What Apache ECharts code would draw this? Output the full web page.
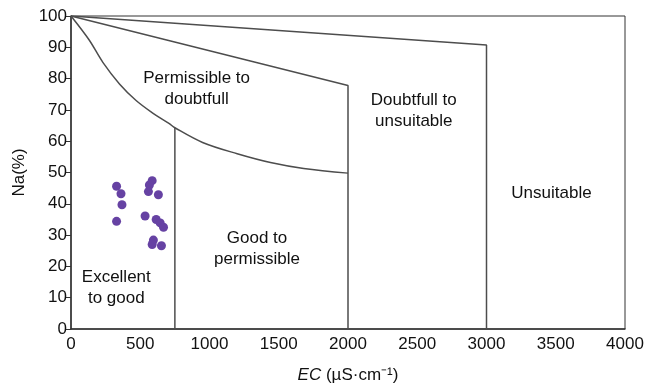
<!DOCTYPE html>
<html>
<head>
<meta charset="utf-8">
<script src="https://cdn.jsdelivr.net/npm/echarts@6/dist/echarts.min.js"></script>
<style>
  html, body { margin: 0; padding: 0; background: #fff; }
  #chart { width: 650px; height: 389px; }
</style>
</head>
<body>
<div id="chart"></div>
<script>
// samples (EC, Na%)
var ecValues = [329, 361, 368, 329, 586, 566, 559, 631, 535, 615, 644, 668, 595, 586, 653];
var naValues = [45.6, 43.2, 39.7, 34.4, 47.4, 46.0, 43.9, 42.9, 36.1, 35.0, 33.9, 32.5, 28.4, 27.0, 26.6];

// Wilcox class boundaries
var lineUnsuitable = [[0, 100], [3000, 90.7], [3000, 0]];
var lineDoubtfull = [[0, 100], [2000, 77.8], [2000, 0]];
var curvePermissible = [[0, 100], [130, 92.4], [230, 85.2], [350, 78.3], [470, 73], [590, 69], [710, 65.6], [750, 64.3],
  [950, 59.6], [1200, 56], [1440, 53.2], [1680, 51.3], [2000, 49.8]];
var lineExcellent = [[750, 64.3], [750, 0]];

// class labels
var classNames = ["Permissible to\ndoubtfull", "Doubtfull to\nunsuitable", "Unsuitable", "Good to\npermissible", "Excellent\nto good"];
var classPos = [[907, 76.8], [2475, 69.8], [3469, 43.2], [1343, 25.7], [327, 13]];

var xTicks = [0, 500, 1000, 1500, 2000, 2500, 3000, 3500, 4000];

var myChart = echarts.init(document.getElementById("chart"));

var boundaryStyle = { color: "#4d4d4d", width: 1.5 };
function boundary(data, smooth) {
  return {
    type: "line",
    data: data,
    smooth: smooth || false,
    showSymbol: false,
    symbol: "none",
    lineStyle: boundaryStyle,
    silent: true,
    z: 2
  };
}

var option = {
  animation: false,
  textStyle: { fontFamily: "Liberation Sans, Arial, sans-serif" },
  grid: {
    left: 71,
    right: 25,
    top: 16,
    bottom: 58,
    show: true,
    borderColor: "#333",
    borderWidth: 1
  },
  xAxis: {
    type: "value",
    min: xTicks[0],
    max: xTicks[xTicks.length - 1],
    interval: 500,
    name: "{i|EC} (µS·cm⁻¹)",
    nameLocation: "middle",
    nameGap: 38,
    nameTextStyle: {
      fontSize: 17,
      color: "#111",
      rich: {
        i: { fontStyle: "italic", fontSize: 17, color: "#111" }
      }
    },
    axisLine: { show: true, lineStyle: { color: "#333", width: 1.5 } },
    axisTick: { show: false },
    splitLine: { show: false },
    axisLabel: {
      fontSize: 17,
      color: "#111",
      margin: 7,
      formatter: function (v) { return String(v); }
    }
  },
  yAxis: {
    type: "value",
    min: 0,
    max: 100,
    interval: 10,
    name: "Na(%)",
    nameLocation: "middle",
    nameGap: 40,
    nameTextStyle: { fontSize: 17, color: "#111" },
    axisLine: { show: true, lineStyle: { color: "#333", width: 1.5 } },
    axisTick: { show: true, length: 5, lineStyle: { color: "#333" } },
    splitLine: { show: false },
    axisLabel: { fontSize: 17, color: "#111", margin: 4 }
  },
  series: [
    boundary(lineUnsuitable),
    boundary(lineDoubtfull),
    boundary(curvePermissible, 0.35),
    boundary(lineExcellent),
    {
      type: "scatter",
      symbolSize: 9,
      itemStyle: { color: "#6642a3", opacity: 1 },
      data: ecValues.map(function (v, i) { return [v, naValues[i]]; }),
      z: 5
    },
    {
      type: "scatter",
      symbolSize: 0,
      silent: true,
      itemStyle: { opacity: 1 },
      label: {
        show: true,
        position: "inside",
        fontSize: 17,
        lineHeight: 21,
        color: "#111",
        opacity: 1,
        align: "center",
        formatter: function (p) { return classNames[p.dataIndex]; }
      },
      data: classPos
    }
  ]
};

myChart.setOption(option);
</script>
</body>
</html>
